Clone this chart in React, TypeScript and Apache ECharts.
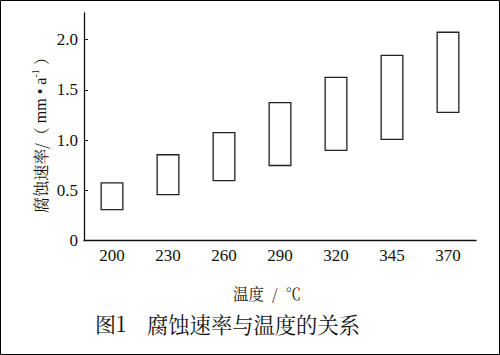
import React, { useEffect, useRef } from "react";
import * as echarts from "echarts";

const categories = ["200", "230", "260", "290", "320", "345", "370"];
const lows = [0.3, 0.45, 0.59, 0.74, 0.89, 1.0, 1.27];
const highs = [0.58, 0.86, 1.08, 1.38, 1.63, 1.85, 2.08];
const yTicks = [0, 0.5, 1.0, 1.5, 2.0];

const serif = "Liberation Serif";
const cjk = "Noto Serif CJK SC, Noto Sans CJK SC, Liberation Serif";

export default function App() {
  const ref = useRef<HTMLDivElement>(null);
  useEffect(() => {
    if (!ref.current) return;
    const chart = echarts.init(ref.current, null, { renderer: "svg" });
    const spans = highs.map((h, i) => +(h - lows[i]).toFixed(3));
    chart.setOption({
      animation: false,
      backgroundColor: "#fff",
      grid: { left: 84, right: 24, top: 13, bottom: 114.5, containLabel: false },
      xAxis: {
        type: "category",
        data: categories,
        boundaryGap: true,
        axisLine: { lineStyle: { color: "#111", width: 1.3 } },
        axisTick: { inside: true, length: 4, alignWithLabel: true, lineStyle: { color: "#111" } },
        axisLabel: { color: "#111", fontFamily: serif, fontSize: 17, margin: 6 },
      },
      yAxis: {
        type: "value",
        min: 0,
        max: 2.265,
        splitLine: { show: false },
        axisLine: { show: true, lineStyle: { color: "#111", width: 1.3 } },
        axisTick: { show: true, inside: true, length: 4, customValues: yTicks, lineStyle: { color: "#111" } },
        axisLabel: {
          color: "#111",
          fontFamily: serif,
          fontSize: 17,
          margin: 6,
          customValues: yTicks,
          formatter: (v: number) => (v === 0 ? "0" : v.toFixed(1)),
        },
      },
      graphic: [
        {
          type: "rect",
          shape: { x: 0.5, y: 0.5, width: 499, height: 354 },
          style: { fill: "none", stroke: "#000", lineWidth: 1 },
          silent: true,
        },
        {
          type: "text",
          x: 40,
          y: 131,
          rotation: Math.PI / 2,
          style: {
            text: "{a|腐蚀速率/（ }{m|mm • a}{s|-1}{a| ）}",
            align: "center",
            verticalAlign: "middle",
            rich: {
              a: { fontFamily: cjk, fontSize: 16, fill: "#111" },
              m: { fontFamily: serif, fontSize: 16, fill: "#111" },
              s: { fontFamily: serif, fontSize: 10, fill: "#111", padding: [0, 0, 9, 0] },
            },
          },
        },
        {
          type: "text",
          x: 267,
          y: 293,
          style: {
            text: "温度  /  ℃",
            fontFamily: cjk,
            fontSize: 15.5,
            fill: "#111",
            align: "center",
            verticalAlign: "middle",
          },
        },
        {
          type: "text",
          x: 95,
          y: 323,
          style: {
            text: "图1",
            fontFamily: cjk,
            fontSize: 21,
            fill: "#111",
            align: "left",
            verticalAlign: "middle",
          },
        },
        {
          type: "text",
          x: 147,
          y: 323,
          style: {
            text: "腐蚀速率与温度的关系",
            fontFamily: cjk,
            fontSize: 21.3,
            fill: "#111",
            align: "left",
            verticalAlign: "middle",
          },
        },
      ],
      series: [
        {
          type: "bar",
          stack: "r",
          data: lows,
          barWidth: 23,
          silent: true,
          itemStyle: { color: "transparent" },
        },
        {
          type: "bar",
          stack: "r",
          data: spans,
          barWidth: 23,
          itemStyle: { color: "#fff", borderColor: "#222", borderWidth: 1.3 },
        },
      ],
    });
    return () => chart.dispose();
  }, []);
  return (
    <div
      ref={ref}
      style={{ position: "absolute", left: 0, top: 0, width: 500, height: 355 }}
    />
  );
}
